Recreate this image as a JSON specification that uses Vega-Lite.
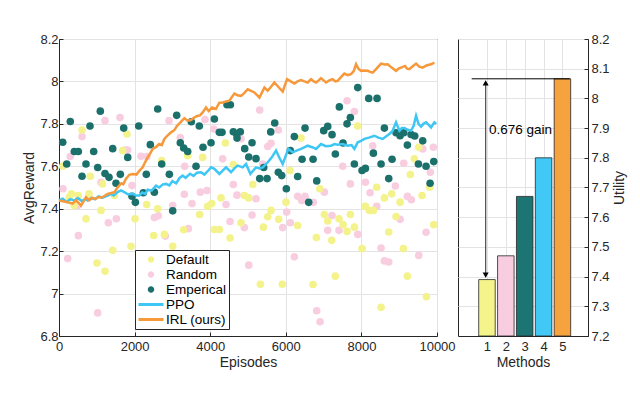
{
  "$schema": "https://vega.github.io/schema/vega-lite/v6.json",
  "background": "white",
  "padding": {"left": 22, "top": 32, "right": 4, "bottom": 4},
  "bounds": "flush",
  "spacing": 21,
  "config": {
    "font": "Liberation Sans",
    "view": {"stroke": "#262626", "strokeWidth": 1},
    "axis": {
      "labelFont": "Liberation Sans", "labelFontSize": 13, "labelColor": "#262626",
      "titleFont": "Liberation Sans", "titleFontSize": 14, "titleFontWeight": "normal", "titleColor": "#262626",
      "gridColor": "#e3e3e3", "gridWidth": 1, "domainColor": "#262626", "tickColor": "#262626",
      "tickSize": -4, "labelPadding": 5, "labelFlush": false, "labelOverlap": false
    }
  },
  "datasets": {
    "pts": [
      {"s":"Random","x":106,"y":7.494},{"s":"Random","x":230,"y":7.165},{"s":"Random","x":299,"y":7.646},{"s":"Random","x":494,"y":7.415},{"s":"Random","x":511,"y":7.273},{"s":"Random","x":609,"y":7.74},{"s":"Random","x":1024,"y":6.909},{"s":"Random","x":1111,"y":7.525},{"s":"Random","x":1217,"y":7.815},{"s":"Random","x":1305,"y":7.334},{"s":"Random","x":1517,"y":7.353},{"s":"Random","x":1614,"y":7.83},{"s":"Random","x":1746,"y":7.677},{"s":"Random","x":1818,"y":7.677},{"s":"Random","x":1931,"y":7.509},{"s":"Random","x":2170,"y":7.647},{"s":"Random","x":2328,"y":7.646},{"s":"Random","x":2522,"y":7.358},{"s":"Random","x":2628,"y":7.367},{"s":"Random","x":2813,"y":7.271},{"s":"Random","x":2910,"y":7.815},{"s":"Random","x":3008,"y":7.415},{"s":"Random","x":3209,"y":7.736},{"s":"Random","x":3315,"y":7.468},{"s":"Random","x":3325,"y":7.6},{"s":"Random","x":3421,"y":7.306},{"s":"Random","x":3519,"y":7.424},{"s":"Random","x":3739,"y":7.478},{"s":"Random","x":3862,"y":7.82},{"s":"Random","x":3916,"y":7.486},{"s":"Random","x":4093,"y":7.776},{"s":"Random","x":4330,"y":7.635},{"s":"Random","x":4419,"y":7.42},{"s":"Random","x":4525,"y":7.34},{"s":"Random","x":4612,"y":7.514},{"s":"Random","x":4710,"y":7.464},{"s":"Random","x":4815,"y":7.73},{"s":"Random","x":4904,"y":7.311},{"s":"Random","x":5019,"y":7.134},{"s":"Random","x":5107,"y":7.37},{"s":"Random","x":5212,"y":7.447},{"s":"Random","x":5310,"y":7.865},{"s":"Random","x":5390,"y":7.611},{"s":"Random","x":5522,"y":7.693},{"s":"Random","x":5610,"y":7.708},{"s":"Random","x":5803,"y":7.771},{"s":"Random","x":5918,"y":7.311},{"s":"Random","x":6023,"y":7.384},{"s":"Random","x":6120,"y":7.334},{"s":"Random","x":6226,"y":7.173},{"s":"Random","x":6315,"y":7.459},{"s":"Random","x":6421,"y":7.439},{"s":"Random","x":6509,"y":7.459},{"s":"Random","x":6730,"y":7.43},{"s":"Random","x":6818,"y":6.919},{"s":"Random","x":6906,"y":6.867},{"s":"Random","x":7020,"y":7.478},{"s":"Random","x":7109,"y":7.298},{"s":"Random","x":7223,"y":7.368},{"s":"Random","x":7408,"y":7.298},{"s":"Random","x":7505,"y":7.6},{"s":"Random","x":7620,"y":7.909},{"s":"Random","x":7708,"y":7.517},{"s":"Random","x":7814,"y":7.858},{"s":"Random","x":7903,"y":7.279},{"s":"Random","x":8105,"y":7.525},{"s":"Random","x":8229,"y":7.475},{"s":"Random","x":8299,"y":7.697},{"s":"Random","x":8405,"y":7.411},{"s":"Random","x":8520,"y":7.215},{"s":"Random","x":8608,"y":7.154},{"s":"Random","x":8723,"y":7.149},{"s":"Random","x":8899,"y":7.507},{"s":"Random","x":9023,"y":7.35},{"s":"Random","x":9120,"y":7.614},{"s":"Random","x":9216,"y":7.458},{"s":"Random","x":9322,"y":7.442},{"s":"Random","x":9517,"y":7.18},{"s":"Random","x":9622,"y":7.682},{"s":"Random","x":9711,"y":7.289},{"s":"Random","x":9825,"y":7.572},{"s":"Random","x":9905,"y":7.69},
      {"s":"Default","x":98,"y":7.6},{"s":"Default","x":273,"y":7.454},{"s":"Default","x":330,"y":7.47},{"s":"Default","x":405,"y":7.415},{"s":"Default","x":511,"y":7.462},{"s":"Default","x":609,"y":7.771},{"s":"Default","x":714,"y":7.353},{"s":"Default","x":794,"y":7.47},{"s":"Default","x":828,"y":7.553},{"s":"Default","x":1005,"y":7.144},{"s":"Default","x":1111,"y":7.392},{"s":"Default","x":1150,"y":7.517},{"s":"Default","x":1217,"y":7.105},{"s":"Default","x":1421,"y":7.204},{"s":"Default","x":1464,"y":7.462},{"s":"Default","x":1685,"y":7.674},{"s":"Default","x":1799,"y":7.752},{"s":"Default","x":1905,"y":7.223},{"s":"Default","x":2011,"y":7.353},{"s":"Default","x":2320,"y":7.42},{"s":"Default","x":2505,"y":7.274},{"s":"Default","x":2611,"y":7.4},{"s":"Default","x":2717,"y":7.627},{"s":"Default","x":2787,"y":7.279},{"s":"Default","x":3008,"y":7.223},{"s":"Default","x":3299,"y":7.301},{"s":"Default","x":3405,"y":7.65},{"s":"Default","x":3721,"y":7.373},{"s":"Default","x":3801,"y":7.642},{"s":"Default","x":3934,"y":7.411},{"s":"Default","x":4040,"y":7.424},{"s":"Default","x":4110,"y":7.302},{"s":"Default","x":4242,"y":7.302},{"s":"Default","x":4286,"y":7.451},{"s":"Default","x":4401,"y":7.71},{"s":"Default","x":4525,"y":7.262},{"s":"Default","x":4612,"y":7.608},{"s":"Default","x":4815,"y":7.334},{"s":"Default","x":4904,"y":7.462},{"s":"Default","x":5019,"y":7.451},{"s":"Default","x":5125,"y":7.514},{"s":"Default","x":5328,"y":7.044},{"s":"Default","x":5407,"y":7.313},{"s":"Default","x":5522,"y":7.362},{"s":"Default","x":5610,"y":7.392},{"s":"Default","x":5812,"y":7.35},{"s":"Default","x":5909,"y":7.044},{"s":"Default","x":6006,"y":7.431},{"s":"Default","x":6112,"y":7.58},{"s":"Default","x":6314,"y":7.321},{"s":"Default","x":6403,"y":7.733},{"s":"Default","x":6721,"y":7.043},{"s":"Default","x":6809,"y":7.264},{"s":"Default","x":6898,"y":7.494},{"s":"Default","x":7020,"y":7.373},{"s":"Default","x":7109,"y":7.342},{"s":"Default","x":7215,"y":7.251},{"s":"Default","x":7311,"y":7.082},{"s":"Default","x":7408,"y":7.353},{"s":"Default","x":7514,"y":7.325},{"s":"Default","x":7620,"y":7.293},{"s":"Default","x":7708,"y":7.373},{"s":"Default","x":7814,"y":7.313},{"s":"Default","x":7903,"y":7.79},{"s":"Default","x":8017,"y":7.212},{"s":"Default","x":8105,"y":7.411},{"s":"Default","x":8211,"y":7.392},{"s":"Default","x":8317,"y":7.392},{"s":"Default","x":8405,"y":7.501},{"s":"Default","x":8520,"y":6.935},{"s":"Default","x":8608,"y":7.451},{"s":"Default","x":8723,"y":7.29},{"s":"Default","x":8802,"y":7.47},{"s":"Default","x":8917,"y":7.363},{"s":"Default","x":9023,"y":7.431},{"s":"Default","x":9111,"y":7.212},{"s":"Default","x":9216,"y":7.082},{"s":"Default","x":9295,"y":7.561},{"s":"Default","x":9401,"y":7.635},{"s":"Default","x":9517,"y":7.69},{"s":"Default","x":9605,"y":7.462},{"s":"Default","x":9720,"y":6.985},{"s":"Default","x":9807,"y":7.501},{"s":"Default","x":9914,"y":7.325},
      {"s":"Emperical","x":98,"y":7.713},{"s":"Emperical","x":204,"y":7.611},{"s":"Emperical","x":299,"y":7.811},{"s":"Emperical","x":405,"y":7.67},{"s":"Emperical","x":511,"y":7.67},{"s":"Emperical","x":609,"y":7.553},{"s":"Emperical","x":714,"y":7.611},{"s":"Emperical","x":820,"y":7.79},{"s":"Emperical","x":918,"y":7.67},{"s":"Emperical","x":1024,"y":7.594},{"s":"Emperical","x":1093,"y":7.86},{"s":"Emperical","x":1217,"y":7.566},{"s":"Emperical","x":1323,"y":7.548},{"s":"Emperical","x":1421,"y":7.683},{"s":"Emperical","x":1508,"y":7.52},{"s":"Emperical","x":1622,"y":7.562},{"s":"Emperical","x":1712,"y":7.78},{"s":"Emperical","x":1818,"y":7.642},{"s":"Emperical","x":1931,"y":7.459},{"s":"Emperical","x":2020,"y":7.43},{"s":"Emperical","x":2109,"y":7.79},{"s":"Emperical","x":2231,"y":7.475},{"s":"Emperical","x":2310,"y":7.562},{"s":"Emperical","x":2416,"y":7.702},{"s":"Emperical","x":2522,"y":7.478},{"s":"Emperical","x":2611,"y":7.87},{"s":"Emperical","x":2717,"y":7.611},{"s":"Emperical","x":2919,"y":7.562},{"s":"Emperical","x":3008,"y":7.39},{"s":"Emperical","x":3113,"y":7.84},{"s":"Emperical","x":3209,"y":7.711},{"s":"Emperical","x":3299,"y":7.686},{"s":"Emperical","x":3405,"y":7.67},{"s":"Emperical","x":3500,"y":7.81},{"s":"Emperical","x":3625,"y":7.6},{"s":"Emperical","x":3712,"y":7.79},{"s":"Emperical","x":3810,"y":7.69},{"s":"Emperical","x":4022,"y":7.711},{"s":"Emperical","x":4110,"y":7.823},{"s":"Emperical","x":4242,"y":7.76},{"s":"Emperical","x":4313,"y":7.76},{"s":"Emperical","x":4445,"y":7.89},{"s":"Emperical","x":4533,"y":7.89},{"s":"Emperical","x":4612,"y":7.763},{"s":"Emperical","x":4701,"y":7.752},{"s":"Emperical","x":4710,"y":7.733},{"s":"Emperical","x":4797,"y":7.763},{"s":"Emperical","x":4913,"y":7.683},{"s":"Emperical","x":5019,"y":7.644},{"s":"Emperical","x":5107,"y":7.711},{"s":"Emperical","x":5212,"y":7.636},{"s":"Emperical","x":5310,"y":7.542},{"s":"Emperical","x":5416,"y":7.594},{"s":"Emperical","x":5504,"y":7.542},{"s":"Emperical","x":5601,"y":7.762},{"s":"Emperical","x":5707,"y":7.804},{"s":"Emperical","x":5803,"y":7.572},{"s":"Emperical","x":5892,"y":7.556},{"s":"Emperical","x":6014,"y":7.494},{"s":"Emperical","x":6120,"y":7.674},{"s":"Emperical","x":6226,"y":7.74},{"s":"Emperical","x":6314,"y":7.552},{"s":"Emperical","x":6430,"y":7.633},{"s":"Emperical","x":6509,"y":7.78},{"s":"Emperical","x":6606,"y":7.43},{"s":"Emperical","x":6721,"y":7.633},{"s":"Emperical","x":6818,"y":7.531},{"s":"Emperical","x":7003,"y":7.768},{"s":"Emperical","x":7109,"y":7.788},{"s":"Emperical","x":7223,"y":7.749},{"s":"Emperical","x":7311,"y":7.658},{"s":"Emperical","x":7417,"y":7.88},{"s":"Emperical","x":7514,"y":7.71},{"s":"Emperical","x":7620,"y":7.8},{"s":"Emperical","x":7708,"y":7.83},{"s":"Emperical","x":7814,"y":7.611},{"s":"Emperical","x":7903,"y":7.971},{"s":"Emperical","x":8017,"y":7.58},{"s":"Emperical","x":8105,"y":7.59},{"s":"Emperical","x":8194,"y":7.92},{"s":"Emperical","x":8317,"y":7.662},{"s":"Emperical","x":8414,"y":7.92},{"s":"Emperical","x":8520,"y":7.611},{"s":"Emperical","x":8608,"y":7.78},{"s":"Emperical","x":8723,"y":7.542},{"s":"Emperical","x":8811,"y":7.633},{"s":"Emperical","x":8917,"y":7.758},{"s":"Emperical","x":9023,"y":7.744},{"s":"Emperical","x":9120,"y":7.758},{"s":"Emperical","x":9216,"y":7.7},{"s":"Emperical","x":9314,"y":7.75},{"s":"Emperical","x":9411,"y":7.743},{"s":"Emperical","x":9508,"y":7.611},{"s":"Emperical","x":9622,"y":7.72},{"s":"Emperical","x":9711,"y":7.6},{"s":"Emperical","x":9817,"y":7.52},{"s":"Emperical","x":9914,"y":7.622}
    ],
    "ppo": [
      {"s":"PPO","x":0,"y":7.44},{"s":"PPO","x":100,"y":7.447},{"s":"PPO","x":200,"y":7.432},{"s":"PPO","x":300,"y":7.445},{"s":"PPO","x":400,"y":7.438},{"s":"PPO","x":500,"y":7.45},{"s":"PPO","x":600,"y":7.436},{"s":"PPO","x":700,"y":7.446},{"s":"PPO","x":758,"y":7.439},{"s":"PPO","x":850,"y":7.45},{"s":"PPO","x":950,"y":7.445},{"s":"PPO","x":1050,"y":7.458},{"s":"PPO","x":1150,"y":7.452},{"s":"PPO","x":1288,"y":7.462},{"s":"PPO","x":1376,"y":7.47},{"s":"PPO","x":1450,"y":7.462},{"s":"PPO","x":1550,"y":7.478},{"s":"PPO","x":1640,"y":7.486},{"s":"PPO","x":1728,"y":7.478},{"s":"PPO","x":1820,"y":7.468},{"s":"PPO","x":1950,"y":7.47},{"s":"PPO","x":2050,"y":7.462},{"s":"PPO","x":2125,"y":7.462},{"s":"PPO","x":2200,"y":7.476},{"s":"PPO","x":2280,"y":7.47},{"s":"PPO","x":2346,"y":7.49},{"s":"PPO","x":2450,"y":7.485},{"s":"PPO","x":2567,"y":7.509},{"s":"PPO","x":2650,"y":7.5},{"s":"PPO","x":2750,"y":7.515},{"s":"PPO","x":2831,"y":7.517},{"s":"PPO","x":2920,"y":7.51},{"s":"PPO","x":3000,"y":7.53},{"s":"PPO","x":3100,"y":7.52},{"s":"PPO","x":3190,"y":7.545},{"s":"PPO","x":3272,"y":7.556},{"s":"PPO","x":3350,"y":7.545},{"s":"PPO","x":3466,"y":7.565},{"s":"PPO","x":3560,"y":7.555},{"s":"PPO","x":3650,"y":7.57},{"s":"PPO","x":3757,"y":7.572},{"s":"PPO","x":3845,"y":7.561},{"s":"PPO","x":3950,"y":7.58},{"s":"PPO","x":4022,"y":7.595},{"s":"PPO","x":4110,"y":7.588},{"s":"PPO","x":4242,"y":7.564},{"s":"PPO","x":4330,"y":7.58},{"s":"PPO","x":4419,"y":7.595},{"s":"PPO","x":4551,"y":7.572},{"s":"PPO","x":4640,"y":7.59},{"s":"PPO","x":4728,"y":7.603},{"s":"PPO","x":4860,"y":7.595},{"s":"PPO","x":4948,"y":7.611},{"s":"PPO","x":5063,"y":7.564},{"s":"PPO","x":5212,"y":7.595},{"s":"PPO","x":5300,"y":7.59},{"s":"PPO","x":5390,"y":7.595},{"s":"PPO","x":5522,"y":7.619},{"s":"PPO","x":5620,"y":7.64},{"s":"PPO","x":5742,"y":7.674},{"s":"PPO","x":5830,"y":7.64},{"s":"PPO","x":5918,"y":7.611},{"s":"PPO","x":6000,"y":7.65},{"s":"PPO","x":6067,"y":7.682},{"s":"PPO","x":6182,"y":7.666},{"s":"PPO","x":6300,"y":7.675},{"s":"PPO","x":6403,"y":7.682},{"s":"PPO","x":6500,"y":7.69},{"s":"PPO","x":6579,"y":7.697},{"s":"PPO","x":6700,"y":7.69},{"s":"PPO","x":6800,"y":7.682},{"s":"PPO","x":6932,"y":7.705},{"s":"PPO","x":7060,"y":7.695},{"s":"PPO","x":7197,"y":7.697},{"s":"PPO","x":7290,"y":7.705},{"s":"PPO","x":7373,"y":7.702},{"s":"PPO","x":7500,"y":7.705},{"s":"PPO","x":7638,"y":7.697},{"s":"PPO","x":7740,"y":7.7},{"s":"PPO","x":7814,"y":7.682},{"s":"PPO","x":7903,"y":7.713},{"s":"PPO","x":7990,"y":7.72},{"s":"PPO","x":8079,"y":7.729},{"s":"PPO","x":8200,"y":7.735},{"s":"PPO","x":8343,"y":7.744},{"s":"PPO","x":8450,"y":7.735},{"s":"PPO","x":8564,"y":7.729},{"s":"PPO","x":8650,"y":7.74},{"s":"PPO","x":8740,"y":7.752},{"s":"PPO","x":8820,"y":7.765},{"s":"PPO","x":8917,"y":7.807},{"s":"PPO","x":9005,"y":7.768},{"s":"PPO","x":9070,"y":7.78},{"s":"PPO","x":9137,"y":7.78},{"s":"PPO","x":9230,"y":7.772},{"s":"PPO","x":9314,"y":7.768},{"s":"PPO","x":9380,"y":7.79},{"s":"PPO","x":9446,"y":7.838},{"s":"PPO","x":9510,"y":7.8},{"s":"PPO","x":9578,"y":7.787},{"s":"PPO","x":9640,"y":7.8},{"s":"PPO","x":9711,"y":7.807},{"s":"PPO","x":9780,"y":7.795},{"s":"PPO","x":9843,"y":7.783},{"s":"PPO","x":9931,"y":7.807},{"s":"PPO","x":9980,"y":7.8}
    ],
    "irl": [
      {"s":"IRL (ours)","x":0,"y":7.44},{"s":"IRL (ours)","x":100,"y":7.435},{"s":"IRL (ours)","x":200,"y":7.432},{"s":"IRL (ours)","x":280,"y":7.428},{"s":"IRL (ours)","x":362,"y":7.424},{"s":"IRL (ours)","x":450,"y":7.44},{"s":"IRL (ours)","x":520,"y":7.428},{"s":"IRL (ours)","x":582,"y":7.415},{"s":"IRL (ours)","x":650,"y":7.435},{"s":"IRL (ours)","x":714,"y":7.454},{"s":"IRL (ours)","x":800,"y":7.44},{"s":"IRL (ours)","x":880,"y":7.452},{"s":"IRL (ours)","x":960,"y":7.445},{"s":"IRL (ours)","x":1040,"y":7.455},{"s":"IRL (ours)","x":1120,"y":7.452},{"s":"IRL (ours)","x":1200,"y":7.46},{"s":"IRL (ours)","x":1288,"y":7.47},{"s":"IRL (ours)","x":1380,"y":7.474},{"s":"IRL (ours)","x":1464,"y":7.478},{"s":"IRL (ours)","x":1552,"y":7.501},{"s":"IRL (ours)","x":1650,"y":7.52},{"s":"IRL (ours)","x":1700,"y":7.515},{"s":"IRL (ours)","x":1773,"y":7.541},{"s":"IRL (ours)","x":1860,"y":7.56},{"s":"IRL (ours)","x":1950,"y":7.564},{"s":"IRL (ours)","x":2050,"y":7.561},{"s":"IRL (ours)","x":2130,"y":7.58},{"s":"IRL (ours)","x":2214,"y":7.595},{"s":"IRL (ours)","x":2280,"y":7.62},{"s":"IRL (ours)","x":2346,"y":7.642},{"s":"IRL (ours)","x":2410,"y":7.66},{"s":"IRL (ours)","x":2478,"y":7.682},{"s":"IRL (ours)","x":2560,"y":7.69},{"s":"IRL (ours)","x":2650,"y":7.705},{"s":"IRL (ours)","x":2720,"y":7.7},{"s":"IRL (ours)","x":2787,"y":7.729},{"s":"IRL (ours)","x":2870,"y":7.745},{"s":"IRL (ours)","x":2963,"y":7.76},{"s":"IRL (ours)","x":3050,"y":7.77},{"s":"IRL (ours)","x":3120,"y":7.79},{"s":"IRL (ours)","x":3200,"y":7.805},{"s":"IRL (ours)","x":3316,"y":7.827},{"s":"IRL (ours)","x":3400,"y":7.815},{"s":"IRL (ours)","x":3492,"y":7.818},{"s":"IRL (ours)","x":3580,"y":7.83},{"s":"IRL (ours)","x":3668,"y":7.838},{"s":"IRL (ours)","x":3730,"y":7.84},{"s":"IRL (ours)","x":3801,"y":7.854},{"s":"IRL (ours)","x":3889,"y":7.877},{"s":"IRL (ours)","x":3960,"y":7.86},{"s":"IRL (ours)","x":4050,"y":7.877},{"s":"IRL (ours)","x":4150,"y":7.87},{"s":"IRL (ours)","x":4242,"y":7.9},{"s":"IRL (ours)","x":4330,"y":7.901},{"s":"IRL (ours)","x":4420,"y":7.905},{"s":"IRL (ours)","x":4507,"y":7.909},{"s":"IRL (ours)","x":4639,"y":7.943},{"s":"IRL (ours)","x":4720,"y":7.935},{"s":"IRL (ours)","x":4815,"y":7.932},{"s":"IRL (ours)","x":4900,"y":7.945},{"s":"IRL (ours)","x":4992,"y":7.963},{"s":"IRL (ours)","x":5080,"y":7.955},{"s":"IRL (ours)","x":5168,"y":7.948},{"s":"IRL (ours)","x":5240,"y":7.935},{"s":"IRL (ours)","x":5302,"y":7.924},{"s":"IRL (ours)","x":5434,"y":7.971},{"s":"IRL (ours)","x":5522,"y":7.956},{"s":"IRL (ours)","x":5610,"y":7.975},{"s":"IRL (ours)","x":5698,"y":7.995},{"s":"IRL (ours)","x":5800,"y":7.975},{"s":"IRL (ours)","x":5918,"y":7.952},{"s":"IRL (ours)","x":6033,"y":8.011},{"s":"IRL (ours)","x":6130,"y":8.0},{"s":"IRL (ours)","x":6226,"y":7.99},{"s":"IRL (ours)","x":6310,"y":8.0},{"s":"IRL (ours)","x":6403,"y":8.006},{"s":"IRL (ours)","x":6490,"y":8.0},{"s":"IRL (ours)","x":6579,"y":7.995},{"s":"IRL (ours)","x":6668,"y":8.011},{"s":"IRL (ours)","x":6740,"y":8.0},{"s":"IRL (ours)","x":6800,"y":7.995},{"s":"IRL (ours)","x":6870,"y":8.005},{"s":"IRL (ours)","x":6932,"y":8.015},{"s":"IRL (ours)","x":7000,"y":8.005},{"s":"IRL (ours)","x":7064,"y":7.995},{"s":"IRL (ours)","x":7150,"y":8.005},{"s":"IRL (ours)","x":7240,"y":8.011},{"s":"IRL (ours)","x":7310,"y":8.0},{"s":"IRL (ours)","x":7373,"y":8.003},{"s":"IRL (ours)","x":7460,"y":8.02},{"s":"IRL (ours)","x":7549,"y":8.037},{"s":"IRL (ours)","x":7640,"y":8.03},{"s":"IRL (ours)","x":7725,"y":8.034},{"s":"IRL (ours)","x":7800,"y":8.05},{"s":"IRL (ours)","x":7858,"y":8.081},{"s":"IRL (ours)","x":7920,"y":8.06},{"s":"IRL (ours)","x":7990,"y":8.05},{"s":"IRL (ours)","x":8080,"y":8.052},{"s":"IRL (ours)","x":8167,"y":8.05},{"s":"IRL (ours)","x":8230,"y":8.045},{"s":"IRL (ours)","x":8299,"y":8.042},{"s":"IRL (ours)","x":8400,"y":8.06},{"s":"IRL (ours)","x":8520,"y":8.084},{"s":"IRL (ours)","x":8610,"y":8.08},{"s":"IRL (ours)","x":8696,"y":8.081},{"s":"IRL (ours)","x":8800,"y":8.065},{"s":"IRL (ours)","x":8917,"y":8.05},{"s":"IRL (ours)","x":8980,"y":8.06},{"s":"IRL (ours)","x":9049,"y":8.065},{"s":"IRL (ours)","x":9155,"y":8.073},{"s":"IRL (ours)","x":9210,"y":8.06},{"s":"IRL (ours)","x":9269,"y":8.058},{"s":"IRL (ours)","x":9350,"y":8.07},{"s":"IRL (ours)","x":9446,"y":8.084},{"s":"IRL (ours)","x":9530,"y":8.07},{"s":"IRL (ours)","x":9622,"y":8.065},{"s":"IRL (ours)","x":9720,"y":8.075},{"s":"IRL (ours)","x":9843,"y":8.081},{"s":"IRL (ours)","x":9931,"y":8.089}
    ],
    "bars": [
      {"x":1,"y":7.39},{"x":2,"y":7.47},{"x":3,"y":7.67},{"x":4,"y":7.80},{"x":5,"y":8.066}
    ],
    "hline": [{"x":0.19,"x2":5.39,"y":8.066}],
    "vline": [{"x":0.93,"y":7.40,"y2":8.055}],
    "arrowUp": [{"x":0.93,"y":8.052}],
    "arrowDown": [{"x":0.93,"y":7.405}],
    "note": [{"x":2.78,"y":7.895,"label":"0.676 gain"}]
  },
  "hconcat": [
    {
      "width": 378,
      "height": 297,
      "encoding": {
        "x": {"field": "x", "type": "quantitative", "scale": {"domain": [0, 10000], "nice": false},
              "axis": {"title": "Episodes", "values": [0, 2000, 4000, 6000, 8000, 10000], "format": "d", "labelPadding": 8, "titlePadding": 2, "labelOverlap": false}},
        "y": {"field": "y", "type": "quantitative", "scale": {"domain": [6.8, 8.2], "nice": false, "zero": false},
              "axis": {"title": "AvgReward", "values": [6.8, 7, 7.2, 7.4, 7.6, 7.8, 8, 8.2], "format": "~g", "titlePadding": 3, "labelOverlap": false}}
      },
      "layer": [
        {
          "data": {"name": "pts"},
          "mark": {"type": "point", "filled": true, "opacity": 1, "size": 58, "strokeWidth": 0},
          "encoding": {
            "color": {"field": "s", "type": "nominal",
              "scale": {"domain": ["Default", "Random", "Emperical", "PPO", "IRL (ours)"],
                        "range": ["#f3f28b", "#f9cde0", "#1b706c", "#3ec6f4", "#f7983a"]},
              "legend": {
                "orient": "none", "legendX": 76, "legendY": 211, "title": null, "direction": "vertical",
                "strokeColor": "#262626", "fillColor": "white", "padding": 2,
                "labelFont": "Liberation Sans", "labelFontSize": 13.5, "labelColor": "#000000",
                "labelOffset": 1, "clipHeight": 15, "rowPadding": 0, "symbolSize": 625,
                "encoding": {"symbols": {
                  "shape": {"value": {"expr": "datum.value === 'PPO' || datum.value === 'IRL (ours)' ? 'stroke' : 'M-0.14,0A0.14,0.14,0,1,0,0.14,0A0.14,0.14,0,1,0,-0.14,0Z'"}},
                  "size": {"value": 625},
                  "strokeWidth": {"value": 3},
                  "stroke": {"value": {"expr": "datum.value === 'PPO' ? '#3ec6f4' : datum.value === 'IRL (ours)' ? '#f7983a' : 'transparent'"}},
                  "fill": {"value": {"expr": "datum.value === 'Default' ? '#f3f28b' : datum.value === 'Random' ? '#f9cde0' : '#1b706c'"}},
                  "opacity": {"value": 1}
                }}
              }
            }
          }
        },
        {
          "data": {"name": "ppo"},
          "mark": {"type": "line", "strokeWidth": 2.5},
          "encoding": {
            "color": {"field": "s", "type": "nominal",
              "scale": {"domain": ["Default", "Random", "Emperical", "PPO", "IRL (ours)"],
                        "range": ["#f3f28b", "#f9cde0", "#1b706c", "#3ec6f4", "#f7983a"]}}
          }
        },
        {
          "data": {"name": "irl"},
          "mark": {"type": "line", "strokeWidth": 2.5},
          "encoding": {
            "color": {"field": "s", "type": "nominal",
              "scale": {"domain": ["Default", "Random", "Emperical", "PPO", "IRL (ours)"],
                        "range": ["#f3f28b", "#f9cde0", "#1b706c", "#3ec6f4", "#f7983a"]}}
          }
        }
      ]
    },
    {
      "width": 130,
      "height": 297,
      "encoding": {
        "x": {"field": "x", "type": "quantitative", "scale": {"domain": [-0.27, 6.09], "nice": false, "zero": false},
              "axis": {"title": "Methods", "values": [1, 2, 3, 4, 5], "format": "d", "labelPadding": 8, "titlePadding": 2, "labelOverlap": false}},
        "y": {"field": "y", "type": "quantitative", "scale": {"domain": [7.2, 8.2], "nice": false, "zero": false},
              "axis": {"title": "Utility", "orient": "right", "values": [7.2, 7.3, 7.4, 7.5, 7.6, 7.7, 7.8, 7.9, 8, 8.1, 8.2], "format": "~g", "labelPadding": 7, "titlePadding": 3, "titleAngle": 270, "titleBaseline": "top", "labelOverlap": false}}
      },
      "layer": [
        {
          "data": {"name": "bars"},
          "mark": {"type": "bar", "size": 16.5, "stroke": "#262626", "strokeWidth": 0.8},
          "encoding": {
            "y2": {"datum": 7.2},
            "color": {"field": "x", "type": "nominal", "legend": null,
              "scale": {"domain": [1, 2, 3, 4, 5], "range": ["#f4f48b", "#f9cde0", "#1c7572", "#42c8f5", "#f5a23f"]}}
          }
        },
        {
          "data": {"name": "hline"},
          "mark": {"type": "rule", "color": "#000000", "strokeWidth": 1},
          "encoding": {
            "x2": {"field": "x2"}
          }
        },
        {
          "data": {"name": "vline"},
          "mark": {"type": "rule", "color": "#555555", "strokeWidth": 1.3},
          "encoding": {
            "y2": {"field": "y2"}
          }
        },
        {
          "data": {"name": "arrowUp"},
          "mark": {"type": "point", "shape": "triangle-up", "filled": true, "color": "#000000", "opacity": 1, "size": 36},
          "encoding": {}
        },
        {
          "data": {"name": "arrowDown"},
          "mark": {"type": "point", "shape": "triangle-down", "filled": true, "color": "#000000", "opacity": 1, "size": 36},
          "encoding": {}
        },
        {
          "data": {"name": "note"},
          "mark": {"type": "text", "font": "Liberation Sans", "fontSize": 13.5, "color": "#000000"},
          "encoding": {
            "text": {"field": "label"}
          }
        }
      ]
    }
  ],
  "resolve": {"scale": {"color": "independent", "x": "independent", "y": "independent"}}
}
